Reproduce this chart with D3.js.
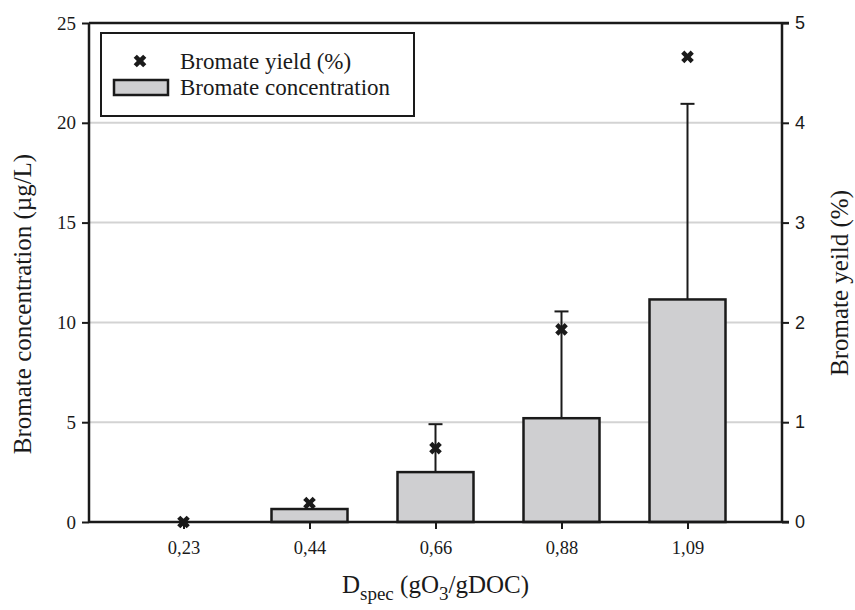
<!DOCTYPE html>
<html>
<head>
<meta charset="utf-8">
<script src="https://cdn.jsdelivr.net/npm/d3@7"></script>
<style>
  body { margin:0; background:#fff; }
</style>
</head>
<body>
<svg id="chart" width="855" height="610"></svg>
<script>
/* data */
var doses = ["0,23","0,44","0,66","0,88","1,09"];
var concentration = [0, 0.65, 2.5, 5.2, 11.15];   // µg/L, bars
var concErr = [0, 0, 2.4, 5.35, 9.8];              // upper error bar
var yieldPct = [0, 0.19, 0.74, 1.93, 4.66];        // %, crosses
var leftTicks = [0,5,10,15,20,25];
var rightTicks = [0,1,2,3,4,5];

var SERIF = "'Liberation Serif','Times New Roman',Times,serif";
var SANS = "'Liberation Sans',Arial,Helvetica,sans-serif";

var svg = d3.select("#chart");
var L = 89, R = 782, T = 23, B = 522;
var ink = "#1a1a1a";

var x = d3.scalePoint().domain(doses).range([L,R]).padding(0.75);
var yL = d3.scaleLinear().domain([0,25]).range([B,T]);
var yR = d3.scaleLinear().domain([0,5]).range([B,T]);
var barW = 76;

/* grid */
svg.append("g").selectAll("line").data([5,10,15,20]).enter().append("line")
  .attr("x1",L).attr("x2",R)
  .attr("y1",function(d){return yL(d);}).attr("y2",function(d){return yL(d);})
  .attr("stroke","#d3d3d3").attr("stroke-width",2);

/* error bars (upper only) */
var eb = svg.append("g").attr("stroke",ink).attr("stroke-width",2);
doses.forEach(function(d,i){
  if (concErr[i] <= 0) return;
  var top = yL(concentration[i]+concErr[i]);
  eb.append("line").attr("x1",x(d)).attr("x2",x(d)).attr("y1",yL(concentration[i])).attr("y2",top);
  eb.append("line").attr("x1",x(d)-7).attr("x2",x(d)+7).attr("y1",top).attr("y2",top);
});

/* bars */
svg.append("g").selectAll("rect").data(doses).enter().append("rect")
  .filter(function(d,i){return concentration[i] > 0;})
  .attr("x",function(d){return x(d)-barW/2;})
  .attr("width",barW)
  .attr("y",function(d){return yL(concentration[doses.indexOf(d)]);})
  .attr("height",function(d){return B - yL(concentration[doses.indexOf(d)]);})
  .attr("fill","#cfcfd1").attr("stroke",ink).attr("stroke-width",2.5);

/* axes */
var gl = svg.append("g").attr("transform","translate("+L+",0)")
  .call(d3.axisLeft(yL).tickValues(leftTicks).tickSize(7).tickPadding(6));
var gr = svg.append("g").attr("transform","translate("+R+",0)")
  .call(d3.axisRight(yR).tickValues(rightTicks).tickFormat(d3.format("d")).tickSize(7).tickPadding(6));
var gb = svg.append("g").attr("transform","translate(0,"+B+")")
  .call(d3.axisBottom(x).tickSize(7).tickPadding(12));
[gl,gr,gb].forEach(function(g){
  g.select(".domain").remove();
  g.attr("font-family",SERIF).attr("font-size",19);
  g.selectAll(".tick line").attr("stroke",ink).attr("stroke-width",2);
  g.selectAll(".tick text").attr("fill",ink);
});
gb.attr("font-size",18.5);
gr.attr("font-family",SANS).attr("font-size",18);

/* frame lines */
var fr = svg.append("g").attr("stroke",ink).attr("stroke-width",2.5).attr("fill","none");
fr.append("line").attr("x1",L).attr("x2",L).attr("y1",T).attr("y2",B);
fr.append("line").attr("x1",R).attr("x2",R).attr("y1",T).attr("y2",B);
fr.append("line").attr("x1",L).attr("x2",R+7).attr("y1",T).attr("y2",T);
fr.append("line").attr("x1",L).attr("x2",R+7).attr("y1",B).attr("y2",B);

/* yield crosses */
var cross = d3.symbol().type(d3.symbolCross).size(100);
svg.append("g").selectAll("path").data(doses).enter().append("path")
  .attr("d",cross)
  .attr("transform",function(d,i){return "translate("+x(d)+","+yR(yieldPct[i])+") rotate(45)";})
  .attr("fill",ink);

/* axis titles */
var titles = svg.append("g").attr("font-family",SERIF).attr("font-size",25).attr("fill",ink);
titles.append("text").attr("transform","translate(31,304) rotate(-90)")
  .attr("text-anchor","middle").text("Bromate concentration (µg/L)");
titles.append("text").attr("transform","translate(848,283) rotate(-90)")
  .attr("text-anchor","middle").text("Bromate yeild (%)");
var xt = titles.append("text").attr("x",(L+R)/2).attr("y",593).attr("text-anchor","middle");
xt.append("tspan").text("D");
xt.append("tspan").attr("dy",7).attr("font-size",19).text("spec");
xt.append("tspan").attr("dy",-7).text(" (gO");
xt.append("tspan").attr("dy",7).attr("font-size",19).text("3");
xt.append("tspan").attr("dy",-7).text("/gDOC)");

/* legend */
var lg = svg.append("g").attr("font-family",SERIF).attr("font-size",23).attr("fill",ink);
lg.append("rect").attr("x",101).attr("y",33).attr("width",313).attr("height",83)
  .attr("fill","#fff").attr("stroke",ink).attr("stroke-width",2);
lg.append("path").attr("d",cross).attr("transform","translate(140,61) rotate(45)").attr("fill",ink);
lg.append("rect").attr("x",114).attr("y",80).attr("width",54).attr("height",15)
  .attr("fill","#cfcfd1").attr("stroke",ink).attr("stroke-width",2.5);
lg.append("text").attr("x",180).attr("y",69).text("Bromate yield (%)");
lg.append("text").attr("x",180).attr("y",95).text("Bromate concentration");
</script>
</body>
</html>
